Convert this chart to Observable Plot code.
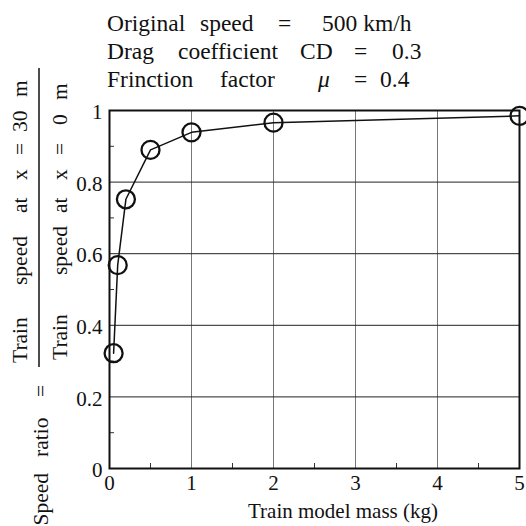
<!DOCTYPE html>
<html><head><meta charset="utf-8">
<script src="https://cdn.jsdelivr.net/npm/d3@7"></script>
<script src="https://cdn.jsdelivr.net/npm/@observablehq/plot@0.6"></script>
<style>body{margin:0;background:#fff} svg{display:block}</style>
</head><body><div id="chart"></div>
<script>
// ---- data ----
const mass = [0.05, 0.1, 0.2, 0.5, 1, 2, 5];
const speedRatio = [0.322, 0.568, 0.752, 0.89, 0.939, 0.966, 0.985];
const xTicks = [0, 1, 2, 3, 4, 5];
const yTicks = [0, 0.2, 0.4, 0.6, 0.8, 1];
const xGrid = [1, 2, 3, 4];
const yGrid = [0.2, 0.4, 0.6, 0.8];
const xMinor = [0.5, 1.5, 2.5, 3.5, 4.5];
const yMinor = [0.1, 0.3, 0.5, 0.7, 0.9];
const xLabel = "Train model mass (kg)";
const titleLine1 = ["Original", "speed", "=", "500 km/h"];
const titleLine2 = ["Drag", "coefficient", "CD", "=", "0.3"];
const titleLine3 = ["Frinction", "factor", "μ", "=", "0.4"];
const yNumerator = ["Train", "speed", "at", "x", "=", "30", "m"];
const yDenominator = ["Train", "speed", "at", "x", "=", "0", "m"];
const yPrefix = ["Speed", "ratio", "="];

const data = mass.map((m, i) => ({mass: m, ratio: speedRatio[i]}));
const FONT = '"Liberation Serif", "DejaVu Serif", "Times New Roman", serif';
const INK = "#111";

const svg = Plot.plot({
  width: 526, height: 526,
  marginLeft: 109, marginRight: 7, marginTop: 110, marginBottom: 58,
  style: {fontFamily: FONT, background: "#fff", color: INK},
  x: {domain: [0, 5]},
  y: {domain: [0, 1]},
  marks: [
    Plot.gridX(xGrid, {stroke: "#777", strokeOpacity: 1, strokeWidth: 1}),
    Plot.gridY(yGrid, {stroke: "#222", strokeOpacity: 1, strokeWidth: 1}),
    Plot.ruleX(xMinor, {x: d => d, y1: 0, y2: 0, insetTop: -5, stroke: "#333", strokeWidth: 1}),
    Plot.ruleY(yMinor, {y: d => d, x1: 0, x2: 0, insetRight: -5, stroke: "#333", strokeWidth: 1}),
    Plot.frame({stroke: INK, strokeWidth: 2}),
    Plot.axisX({ticks: xTicks, tickSize: 0, tickPadding: 7, fontSize: 21, label: null, tickFormat: d => String(d), fontFamily: FONT}),
    Plot.axisY({ticks: yTicks, tickSize: 0, tickPadding: 7, fontSize: 21, label: null, dy: 2, tickFormat: d => String(d), fontFamily: FONT}),
    Plot.line(data, {x: "mass", y: "ratio", stroke: INK, strokeWidth: 1.5}),
    Plot.dot(data, {x: "mass", y: "ratio", r: 9, stroke: INK, strokeWidth: 2.3, fill: "none"})
  ]
});

// ---- annotation layout (positions kept separate from data) ----
const s = d3.select(svg);
const title = s.append("g").style("font-family", FONT).attr("font-size", 23.5)
  .attr("fill", INK).attr("text-anchor", "start");
const layout1 = [107, 200, 278, 322];
const layout2 = [107, 178, 300, 354, 392];
const layout3 = [107, 220, 318, 354, 380];
[[titleLine1, layout1, 31], [titleLine2, layout2, 59], [titleLine3, layout3, 87]].forEach(([words, xs, yb]) => {
  words.forEach((w, i) => {
    const t = title.append("text").attr("x", xs[i]).attr("y", yb).text(w);
    if (w === "μ") t.attr("font-style", "italic");
  });
});

// x label
s.append("text").style("font-family", FONT).attr("font-size", 21).attr("fill", INK)
  .attr("x", 343).attr("y", 518).attr("text-anchor", "middle").text(xLabel);

// y label (rotated fraction)
const yl = s.append("g").attr("transform", "rotate(-90)")
  .style("font-family", FONT).attr("font-size", 21.5).attr("fill", INK).attr("text-anchor", "start");
const numStart = [363, 285, 213, 180, 155, 132, 97];
const denStart = [360, 275, 213, 180, 155, 125, 100];
yNumerator.forEach((w, i) => yl.append("text").attr("x", -numStart[i]).attr("y", 27).text(w));
yDenominator.forEach((w, i) => yl.append("text").attr("x", -denStart[i]).attr("y", 67).text(w));
yl.append("text").attr("x", -473).attr("y", 48).attr("text-anchor", "end").text(yPrefix[0]);
yl.append("text").attr("x", -457).attr("y", 48).text(yPrefix[1]);
yl.append("text").attr("x", -397).attr("y", 48).text(yPrefix[2]);
s.append("line").attr("x1", 39).attr("x2", 39).attr("y1", 68).attr("y2", 367)
  .attr("stroke", INK).attr("stroke-width", 1.5);

document.getElementById("chart").appendChild(svg);
</script>
</body></html>
